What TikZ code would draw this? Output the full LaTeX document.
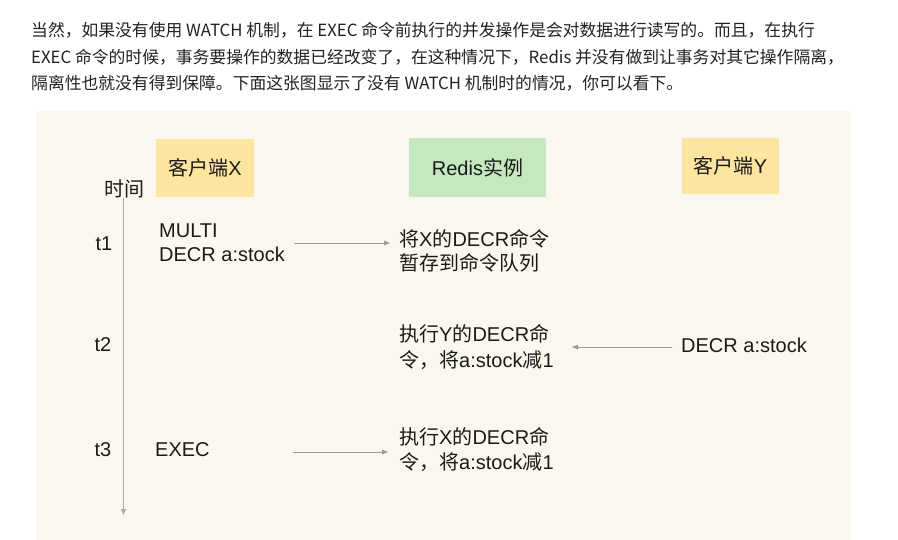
\documentclass[tikz,border=0pt]{standalone}
\usepackage{fontspec}
\setmainfont{Liberation Sans}
\newfontfamily\cjk{Noto Sans CJK SC}
\newcommand\zh[1]{{\cjk #1}}
\usetikzlibrary{arrows.meta}
\definecolor{panel}{HTML}{FAF8EE}
\definecolor{ybox}{HTML}{FDE5A0}
\definecolor{gbox}{HTML}{C5E8BE}
\definecolor{axisgray}{HTML}{AAAAAA}
\definecolor{arrgray}{HTML}{9A9A9A}
\definecolor{txt}{HTML}{1A1A1A}
\definecolor{ptxt}{HTML}{222222}
\begin{document}
\begin{tikzpicture}[x=1pt,y=-1pt,
  para/.style={anchor=base west,inner sep=0pt,text=ptxt,font=\cjk\fontsize{16.8}{20}\selectfont},
  dtext/.style={anchor=base west,inner sep=0pt,text=txt,font=\fontsize{20}{24}\selectfont},
  tlabel/.style={anchor=base,inner sep=0pt,text=txt,font=\fontsize{20}{24}\selectfont},
  boxlabel/.style={inner sep=0pt,text=txt,font=\fontsize{20}{24}\selectfont},
  msg/.style={draw=arrgray,line width=0.8pt,-{Triangle[length=6pt,width=4.5pt]}}]
\useasboundingbox (0,0) rectangle (898,540);
\fill[white] (0,0) rectangle (898,540);
% paragraph
\node[para] (p1) at (31,36.3) {当然，如果没有使用 WATCH 机制，在 EXEC 命令前执行的并发操作是会对数据进行读写的。而且，在执行};
\node[para] (p2) at (31,63.8) {EXEC 命令的时候，事务要操作的数据已经改变了，在这种情况下，Redis 并没有做到让事务对其它操作隔离，};
\node[para] (p3) at (31,89.3) {隔离性也就没有得到保障。下面这张图显示了没有 WATCH 机制时的情况，你可以看下。};
% panel
\fill[panel] (36,111) rectangle (851,540);
% header boxes
\fill[ybox] (156,139) rectangle (254,197);
\fill[gbox] (409,138) rectangle (546,197);
\fill[ybox] (682,138) rectangle (779,194);
\node[boxlabel] (cx) at (205,167.5) {\zh{客户端}X};
\node[boxlabel] (rd) at (477.5,167.5) {Redis\zh{实例}};
\node[boxlabel] (cy) at (730.5,166) {\zh{客户端}Y};
% time axis
\node[tlabel] (time) at (124.5,196.6) {\zh{时间}};
\coordinate (axs) at (123.5,198);
\coordinate (axe) at (123.5,515);
\draw[draw=axisgray,line width=1pt,-{Triangle[length=6pt,width=5pt]}] (axs) -- (axe);
\node[tlabel] (t1) at (104,250.5) {t1};
\node[tlabel] (t2) at (103,352) {t2};
\node[tlabel] (t3) at (103,456) {t3};
% t1
\node[dtext] (x1a) at (159,237.3) {MULTI};
\node[dtext] (x1b) at (159,262) {DECR a:stock};
\node[dtext] (r1a) at (399,246.5) {\zh{将}X\zh{的}DECR\zh{命令}};
\node[dtext] (r1b) at (399,271) {\zh{暂存到命令队列}};
\coordinate (a1s) at (294,243);
\coordinate (a1e) at (390,243);
\draw[msg] (a1s) -- (a1e);
% t2
\node[dtext] (y2) at (681,353) {DECR a:stock};
\node[dtext] (r2a) at (399,342) {\zh{执行}Y\zh{的}DECR\zh{命}};
\node[dtext] (r2b) at (399,367) {\zh{令，将}a:stock\zh{减}1};
\coordinate (a2s) at (672,347);
\coordinate (a2e) at (572,347);
\draw[msg] (a2s) -- (a2e);
% t3
\node[dtext] (x3) at (155,456) {EXEC};
\node[dtext] (r3a) at (399,444) {\zh{执行}X\zh{的}DECR\zh{命}};
\node[dtext] (r3b) at (399,469) {\zh{令，将}a:stock\zh{减}1};
\coordinate (a3s) at (293,452);
\coordinate (a3e) at (388,452);
\draw[msg] (a3s) -- (a3e);
\end{tikzpicture}
\end{document}
